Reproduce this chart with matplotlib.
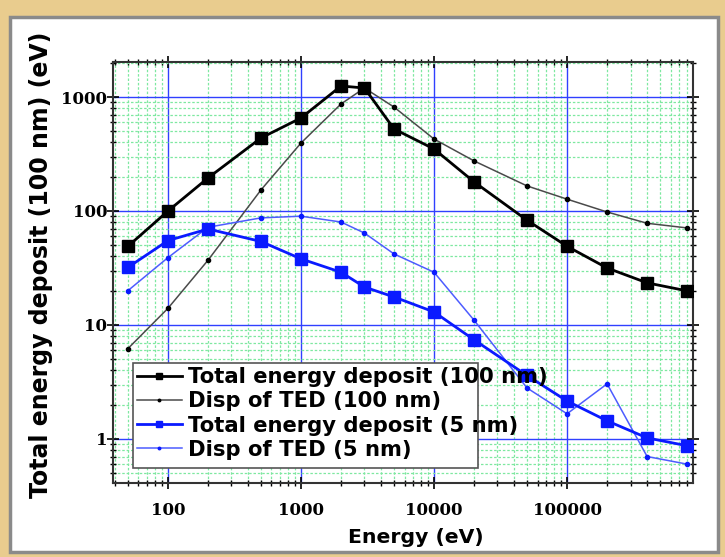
import numpy as np
import matplotlib.pyplot as plt
from matplotlib.patches import Rectangle
from matplotlib.ticker import LogLocator, FixedLocator, NullFormatter

# Energies (eV) and the four series
energy = [50, 100, 200, 500, 1000, 2000, 3000, 5000, 10000, 20000,
          50000, 100000, 200000, 400000, 800000]
ted_100 = [49, 100, 195, 437, 655, 1250, 1200, 525, 350, 180,
           83, 49, 31.6, 23.4, 19.9]
disp_100 = [6.2, 14, 37, 153, 395, 870, 1200, 817, 428, 275,
            166, 127, 98, 78, 71]
ted_5 = [32, 55, 69.5, 54, 38, 29, 21.5, 17.6, 13, 7.4,
         3.6, 2.15, 1.44, 1.02, 0.87]
disp_5 = [20, 39, 72, 87, 90, 80, 64, 42, 29, 11,
          2.8, 1.66, 3.04, 0.70, 0.60]

labels = ['Total energy deposit (100 nm)', 'Disp of TED (100 nm)',
          'Total energy deposit (5 nm)', 'Disp of TED (5 nm)']
xticks = [100, 1000, 10000, 100000]
yticks = [1, 10, 100, 1000]

fig = plt.figure(figsize=(7.25, 5.57), dpi=100)
fig.patch.set_facecolor('#e9cc8e')
# white panel with grey rim inside the gold frame
fig.patches.append(Rectangle((10/725, 5/557), 708/725, 535/557, transform=fig.transFigure,
                             facecolor='white', edgecolor='#8a8a8a', lw=2.5, zorder=-5))

ax = fig.add_axes([113/725, 1-483/557, 580/725, 421/557])
ax.set_xscale('log')
ax.set_yscale('log')
ax.set_xlim(38.6, 885000)
ax.set_ylim(0.41, 2030)

ax.plot(energy, ted_100, '-s', color='black', lw=2, ms=8, label=labels[0], zorder=5)
ax.plot(energy, disp_100, '-o', color='#4a4a4a', mfc='black', mec='black', lw=1.1, ms=3,
        label=labels[1], zorder=4)
ax.plot(energy, ted_5, '-s', color='#0a1aff', lw=2, ms=8, label=labels[2], zorder=5)
ax.plot(energy, disp_5, '-o', color='#4d5cff', mfc='#0a1aff', mec='#0a1aff', lw=1.1, ms=3,
        label=labels[3], zorder=4)

ax.xaxis.set_major_locator(FixedLocator(xticks))
ax.yaxis.set_major_locator(FixedLocator(yticks))
ax.xaxis.set_minor_locator(LogLocator(base=10, subs=np.arange(2, 10), numticks=20))
ax.yaxis.set_minor_locator(LogLocator(base=10, subs=np.arange(2, 10), numticks=20))
ax.xaxis.set_minor_formatter(NullFormatter())
ax.yaxis.set_minor_formatter(NullFormatter())
ax.set_xticklabels([str(v) for v in xticks])
ax.set_yticklabels([str(v) for v in yticks])

ax.grid(which='minor', color='#7ee8a0', ls=(0, (2, 1.5)), lw=0.9)
ax.grid(which='major', color='#3040ff', ls='-', lw=1.0)
ax.set_axisbelow(True)

ax.tick_params(which='both', top=True, right=True, direction='in', color='black')
ax.tick_params(which='both', left=True, bottom=True, direction='inout')
ax.tick_params(which='major', length=8, width=1.2)
ax.tick_params(which='minor', length=5, width=1)
for lab in ax.get_xticklabels() + ax.get_yticklabels():
    lab.set_fontfamily('DejaVu Serif')
    lab.set_fontweight('bold')
    lab.set_fontsize(12)
ax.tick_params(axis='x', pad=10)
ax.tick_params(axis='y', pad=0)
for sp in ax.spines.values():
    sp.set_color('#333333')
    sp.set_linewidth(1.5)

ax.set_xlabel('Energy (eV)', fontsize=14.7, fontweight='bold')
ax.set_ylabel('Total energy deposit (100 nm) (eV)', fontsize=17, fontweight='bold')
ax.xaxis.set_label_coords(0.522, -0.107)
ax.yaxis.set_label_coords(-0.103, 0.518)

# legend box is narrower than its text, as in the original
ax.add_patch(Rectangle((133/725, 1-468/557), 345/725, 105/557, transform=fig.transFigure,
                       facecolor='white', edgecolor='#555555', lw=1.2, zorder=6))
leg = ax.legend(loc='upper left', bbox_to_anchor=(134/725, 1-364/557),
                bbox_transform=fig.transFigure, frameon=False,
                prop={'weight': 'bold', 'size': 15.2},
                handlelength=2.1, handletextpad=0.3, labelspacing=0.2, borderpad=0.15,
                borderaxespad=0, markerscale=0.6)
leg.set_zorder(7)

fig.savefig('out.png', dpi=100, facecolor=fig.get_facecolor())
